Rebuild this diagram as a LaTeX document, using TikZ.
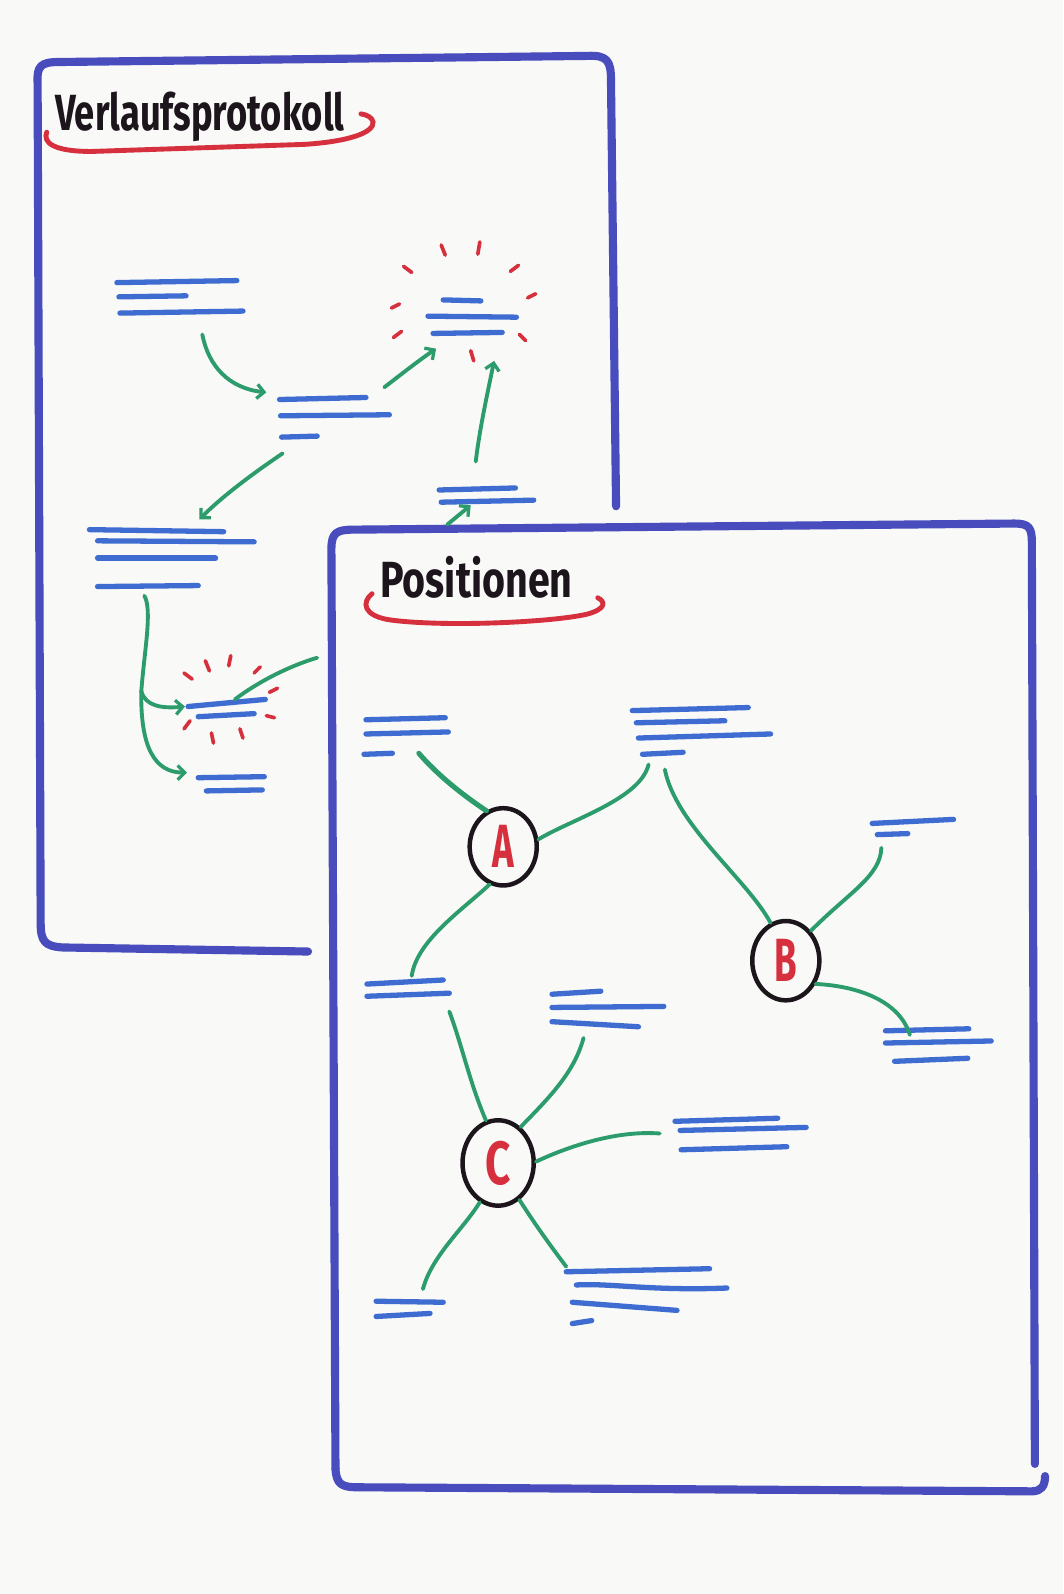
\documentclass[tikz,border=0pt]{standalone}
\usepackage{fontspec}
\setmainfont{Fira Sans}
\usetikzlibrary{arrows.meta,shapes.geometric}
\definecolor{paper}{RGB}{249,249,247}
\definecolor{frameblue}{RGB}{72,76,188}
\definecolor{lineblue}{RGB}{62,108,208}
\definecolor{mgreen}{RGB}{44,156,108}
\definecolor{mred}{RGB}{214,48,62}
\definecolor{ink}{RGB}{28,22,28}
\newcommand\ml[4]{\draw[txt] (#1,#2) -- (#3,#4);}
\newcommand\bm[4]{\draw[burst] (#1,#2) -- (#3,#4);}
\newcommand\cl[1]{\scalebox{0.6}[1]{#1}}
\begin{document}
\begin{tikzpicture}[x=1pt,y=-1pt,
  frame/.style={frameblue,line width=8pt,line cap=round,line join=round},
  txt/.style={lineblue,line width=5.2pt,line cap=round},
  conn/.style={mgreen,line width=3.8pt,line cap=round},
  arr/.style={conn,-{Straight Barb[length=7pt,width=14pt,line width=3.2pt]}},
  burst/.style={mred,line width=3.6pt,line cap=round},
  under/.style={mred,line width=4.8pt,line cap=round},
  blk/.style={inner sep=0pt,draw=none,minimum width=#1},
  circ/.style={ellipse,draw=ink,line width=4.4pt,inner sep=0pt,text=mred,
    font=\fontsize{60}{60}\selectfont\bfseries},
  ttl/.style={anchor=base west,inner sep=0pt,text=ink,font=\fontsize{50}{50}\selectfont\bfseries}
]
\fill[paper] (0,0) rectangle (1046,1568);
\useasboundingbox (0,0) rectangle (1046,1568);

% ---------------- left sheet ----------------
\draw[frame] (303,936) -- (62,932) .. controls (44,931) and (40,926) .. (40,908)
  -- (37,82) .. controls (36,65) and (40,61) .. (58,61) -- (578,55)
  .. controls (597,54) and (601,60) .. (601,78) -- (606,498);

\node[ttl] (t1) at (54,128) {\scalebox{0.715}[1]{Verlaufsprotokoll}};
\draw[under] (46,130) .. controls (42,140) and (52,149) .. (90,149) -- (300,142)
  .. controls (345,139) and (368,130) .. (367,120) .. controls (366,116) and (362,113) .. (355,112);

% text blocks
\node[blk=125,minimum height=34] (L1) at (177,293) {};
\ml{115}{278}{233}{276} \ml{117}{292}{183}{291} \ml{118}{308}{239}{306}
\node[blk=110,minimum height=40] (L2) at (329,411) {};
\ml{275}{393}{360}{391} \ml{276}{409}{383}{408} \ml{277}{430}{312}{429}
\node[blk=90,minimum height=36] (L3) at (464,311) {};
\ml{436}{295}{473}{296} \ml{421}{311}{508}{312} \ml{426}{328}{494}{327}
\node[blk=95,minimum height=16] (L4) at (478,487) {};
\ml{432}{482}{507}{480} \ml{434}{494}{525}{492}
\node[blk=165,minimum height=58] (L5) at (168,549) {};
\ml{88}{521}{220}{523} \ml{96}{532}{250}{533} \ml{96}{549}{212}{549} \ml{96}{577}{195}{576}
\node[blk=78,minimum height=18] (L6) at (223,699) {};
\ml{185}{695}{261}{688} \ml{195}{705}{250}{702}
\node[blk=66,minimum height=16] (L7) at (227,771) {};
\ml{195}{765}{260}{764} \ml{203}{778}{258}{777}

% bursts
\bm{397}{262}{405}{268} \bm{434}{241}{438}{251} \bm{472}{238}{470}{250}
\bm{502}{267}{510}{261} \bm{519}{293}{527}{289} \bm{385}{303}{393}{299}
\bm{387}{332}{395}{326} \bm{511}{329}{517}{335} \bm{463}{345}{466}{355}
\bm{181}{662}{189}{668} \bm{202}{650}{206}{660} \bm{227}{645}{225}{655}
\bm{250}{662}{256}{656} \bm{265}{681}{273}{677} \bm{262}{704}{270}{706}
\bm{181}{717}{187}{709} \bm{208}{721}{210}{731} \bm{236}{717}{239}{726}

% arrows
\coordinate (a1s) at (199,329); \coordinate (a1e) at (262,386);
\draw[arr] (a1s) .. controls (205,360) and (225,382) .. (a1e);
\coordinate (a2s) at (378,381); \coordinate (a2e) at (429,343);
\draw[arr] (a2s) .. controls (395,368) and (410,356) .. (a2e);
\coordinate (a3s) at (468,454); \coordinate (a3e) at (486,355);
\draw[arr] (a3s) .. controls (472,420) and (480,385) .. (a3e);
\coordinate (a5s) at (278,446); \coordinate (a5e) at (196,511);
\draw[arr] (a5s) .. controls (250,465) and (220,487) .. (a5e);
\coordinate (a6s) at (142,586); \coordinate (a6m) at (139,680);
\coordinate (a6e) at (182,695); \coordinate (a6f) at (184,760);
\draw[conn] (a6s) .. controls (150,600) and (142,640) .. (a6m);
\draw[arr] (a6m) .. controls (143,695) and (160,697) .. (a6e);
\draw[arr] (a6m) .. controls (138,735) and (152,760) .. (a6f);
\coordinate (g6s) at (231,688); \coordinate (g6e) at (312,647);
\draw[conn] (g6s) .. controls (255,670) and (285,655) .. (g6e);

% ---------------- right sheet ----------------
\draw[frame] (330,1445) -- (326,540) .. controls (326,524) and (331,521) .. (348,521)
  -- (998,515) .. controls (1012,515) and (1015,519) .. (1015,533) -- (1018,1440);
\draw[frame] (330,1445) .. controls (331,1460) and (336,1463) .. (352,1463)
  -- (1015,1467) .. controls (1024,1467) and (1028,1462) .. (1028,1452);

\coordinate (a4s) at (440,516); \coordinate (a4e) at (463,497);
\draw[arr] (a4s) -- (a4e);

\node[ttl] (t2) at (374,588) {\scalebox{0.775}[1]{Positionen}};
\draw[under] (366,584) .. controls (356,592) and (356,606) .. (385,610)
  .. controls (440,617) and (545,612) .. (578,604) .. controls (596,599) and (596,592) .. (588,588);

\node[blk=85,minimum height=38] (P1) at (400,724) {};
\ml{360}{708}{438}{706} \ml{360}{722}{441}{720} \ml{358}{742}{386}{741}
\node[blk=140,minimum height=48] (P2) at (690,720) {};
\ml{622}{699}{736}{696} \ml{626}{711}{713}{709} \ml{628}{726}{758}{722} \ml{632}{742}{672}{740}
\node[blk=85,minimum height=16] (P3) at (898,814) {};
\ml{858}{810}{938}{806} \ml{863}{821}{893}{820}
\node[blk=108,minimum height=34] (P4) at (923,1028) {};
\ml{871}{1014}{953}{1012} \ml{871}{1026}{975}{1024} \ml{880}{1044}{952}{1041}
\node[blk=85,minimum height=16] (P5) at (402,972) {};
\ml{361}{968}{436}{964} \ml{361}{980}{442}{977}
\node[blk=112,minimum height=34] (P6) at (598,992) {};
\ml{543}{978}{591}{975} \ml{543}{991}{653}{990} \ml{543}{1005}{628}{1010}
\node[blk=132,minimum height=32] (P7) at (728,1116) {};
\ml{664}{1103}{765}{1100} \ml{669}{1112}{793}{1109} \ml{670}{1131}{774}{1128}
\node[blk=70,minimum height=18] (P8) at (403,1287) {};
\ml{370}{1280}{436}{1281} \ml{370}{1295}{423}{1292}
\node[blk=160,minimum height=54] (P9) at (636,1275) {};
\ml{557}{1251}{698}{1248}
\draw[txt] (567,1264) .. controls (600,1262) and (640,1270) .. (715,1267);
\ml{563}{1281}{666}{1289} \ml{563}{1302}{582}{1299}

\node[circ,minimum width=66,minimum height=76] (A) at (495,833) {\cl{A}};
\node[circ,minimum width=66,minimum height=78] (B) at (773,945) {\cl{B}};
\node[circ,minimum width=70,minimum height=84] (C) at (490,1144) {\scalebox{0.72}[1]{C}};

\coordinate (p1a) at (412,741);
\draw[conn,line width=5pt] (p1a) .. controls (430,762) and (455,782) .. (A.115);
\coordinate (p2a) at (638,752);
\draw[conn] (A.12) .. controls (562,806) and (630,786) .. (p2a);
\coordinate (p2b) at (654,757);
\draw[conn] (p2b) .. controls (665,812) and (735,865) .. (B.112);
\coordinate (p3b) at (867,834);
\draw[conn] (B.50) .. controls (835,878) and (866,862) .. (p3b);
\coordinate (p4b) at (895,1018);
\draw[conn] (B.-38) .. controls (845,970) and (885,985) .. (p4b);
\coordinate (p5a) at (405,960);
\draw[conn] (A.-110) .. controls (455,895) and (410,925) .. (p5a);
\coordinate (p5c) at (442,995);
\draw[conn] (p5c) .. controls (455,1030) and (462,1065) .. (C.106);
\coordinate (p6c) at (574,1021);
\draw[conn] (p6c) .. controls (565,1055) and (540,1080) .. (C.58);
\coordinate (p7c) at (649,1115);
\draw[conn] (C.2) .. controls (565,1125) and (610,1112) .. (p7c);
\coordinate (p8c) at (416,1268);
\draw[conn] (C.-115) .. controls (455,1210) and (425,1235) .. (p8c);
\coordinate (p9c) at (557,1246);
\draw[conn] (C.-60) .. controls (530,1210) and (545,1230) .. (p9c);
\end{tikzpicture}
\end{document}
